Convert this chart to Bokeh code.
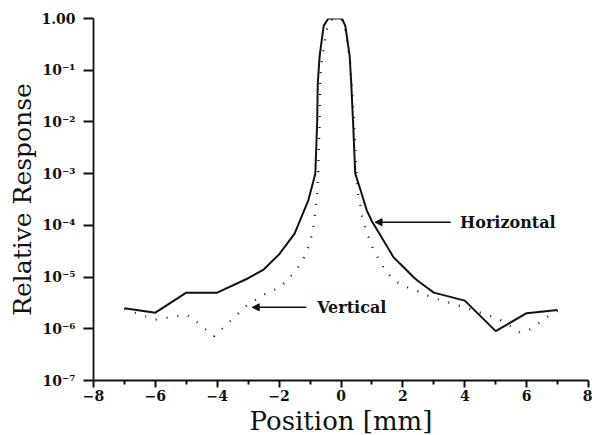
from bokeh.plotting import figure
from bokeh.models import FixedTicker, Arrow, NormalHead, Label, Range1d, Title
from bokeh.embed import file_html
from bokeh.resources import INLINE

# Horizontal profile (solid)
h_x = [-7, -6, -5, -4, -3, -2.5, -2, -1.5, -1.06, -0.83, -0.77, -0.75, -0.69,
       -0.56, -0.41, -0.2, 0.03, 0.14, 0.28, 0.33, 0.39, 0.46, 0.57, 0.84, 1.0,
       1.5, 1.7, 2.0, 2.34, 2.5, 3, 4, 5, 6, 7]
h_y = [2.5e-6, 2.05e-6, 5e-6, 5e-6, 9.5e-6, 1.4e-5, 2.75e-5, 6.9e-5, 3e-4,
       1e-3, 1e-2, 5.7e-2, 0.19, 0.72, 1.0, 1.0, 1.0, 0.72, 0.19, 5.7e-2, 0.01,
       1e-3, 6.3e-4, 1.9e-4, 1.2e-4, 3.8e-5, 2.4e-5, 1.6e-5, 1e-5, 8.3e-6,
       5e-6, 3.5e-6, 9e-7, 2e-6, 2.3e-6]

# Vertical profile (dotted)
v_x = [-7, -6, -5, -4.7, -4.1, -3, -2.37, -2, -1.74, -1.5, -1.26, -1.1, -0.99,
       -0.9, -0.81, -0.77, -0.74, -0.69, -0.67, -0.64, -0.59, -0.53, -0.47,
       -0.35, -0.15, 0.0, 0.1, 0.19, 0.25, 0.30, 0.33, 0.42, 0.49, 0.54, 0.62,
       0.68, 0.78, 0.92, 1.05, 1.24, 1.43, 1.7, 1.97, 2.34, 2.67, 3.02, 3.74,
       4.44, 4.79, 5.14, 5.46, 5.78, 6.11, 6.41, 6.73, 7.0]
v_y = [2.4e-6, 1.5e-6, 1.9e-6, 1.4e-6, 7.2e-7, 3.0e-6, 5e-6, 6.2e-6, 8.7e-6,
       1.26e-5, 1.95e-5, 3.2e-5, 5e-5, 8.5e-5, 2.4e-4, 4e-4, 1.1e-3, 9e-3,
       7e-2, 0.12, 0.2, 0.35, 0.58, 0.92, 1.0, 1.0, 0.8, 0.37, 0.22, 0.13,
       0.078, 1e-2, 1.3e-3, 4.3e-4, 2.6e-4, 1.5e-4, 9e-5, 5.4e-5, 3.3e-5,
       2.1e-5, 1.35e-5, 9e-6, 6.8e-6, 5.9e-6, 4.7e-6, 3.9e-6, 2.9e-6, 2.1e-6,
       1.8e-6, 1.5e-6, 1.15e-6, 8.5e-7, 9.8e-7, 1.3e-6, 1.8e-6, 2.2e-6]

x_ticks = [-8, -6, -4, -2, 0, 2, 4, 6, 8]
x_minor = [-7, -5, -3, -1, 1, 3, 5, 7]
x_tick_labels = ["\u22128", "\u22126", "\u22124", "\u22122", "0", "2", "4", "6", "8"]
y_ticks = [1e-7, 1e-6, 1e-5, 1e-4, 1e-3, 1e-2, 1e-1, 1.0]
y_tick_labels = ["10\u207b\u2077", "10\u207b\u2076", "10\u207b\u2075", "10\u207b\u2074",
                 "10\u207b\u00b3", "10\u207b\u00b2", "10\u207b\u00b9", "1.00"]
x_title = "Position [mm]"
y_title = "Relative Response"

p = figure(width=592, height=435, y_axis_type="log",
           x_range=Range1d(-8, 8), y_range=Range1d(1e-7, 1.0),
           output_backend="svg", toolbar_location=None,
           min_border_left=93, min_border_right=4, min_border_top=18,
           min_border_bottom=55)
p.background_fill_color = "white"
p.border_fill_color = "white"
p.outline_line_color = None
p.grid.visible = False

p.line(h_x, h_y, line_color="#111111", line_width=2)
p.line(v_x, v_y, line_color="#111111", line_width=2.2, line_dash="1 10")

serif = "DejaVu Serif"

xa = p.xaxis[0]
xa.ticker = FixedTicker(ticks=x_ticks, minor_ticks=x_minor)
xa.major_label_overrides = {t: l for t, l in zip(x_ticks, x_tick_labels)}
ya = p.yaxis[0]
ya.ticker = FixedTicker(ticks=y_ticks, minor_ticks=[])
ya.major_label_overrides = {t: l for t, l in zip(y_ticks, y_tick_labels)}

for ax in (xa, ya):
    ax.axis_line_color = "#111111"
    ax.axis_line_width = 1.8
    ax.major_tick_line_color = "#111111"
    ax.major_tick_line_width = 2
    ax.minor_tick_line_color = "#111111"
    ax.minor_tick_line_width = 2
    ax.major_tick_in = 0
    ax.minor_tick_in = 0
    ax.major_label_text_font = serif
    ax.major_label_text_font_style = "bold"
    ax.major_label_text_font_size = "14px"
    ax.major_label_text_color = "#111111"

xa.major_tick_out = 7
xa.minor_tick_out = 4
xa.major_label_standoff = 2

ya.major_tick_out = 10
ya.minor_tick_out = 0
ya.major_label_standoff = 8

# axis titles in their own side panels
p.add_layout(Title(text=x_title, align="center", text_font=serif,
                   text_font_style="normal", text_font_size="26px",
                   text_color="#111111", standoff=0, offset=0), "below")
p.add_layout(Title(text=y_title, align="center", text_font=serif,
                   text_font_style="normal", text_font_size="25px",
                   text_color="#111111", standoff=4, offset=0), "left")

head = dict(size=7, fill_color="#111111", line_color="#111111")
p.add_layout(Arrow(end=NormalHead(**head), x_start=3.55, y_start=1.15e-4,
                   x_end=1.1, y_end=1.15e-4, line_width=1.5, line_color="#111111"))
p.add_layout(Label(x=3.85, y=1.15e-4, text="Horizontal", text_baseline="middle",
                   text_font=serif, text_font_style="bold", text_font_size="16px",
                   text_color="#111111"))
p.add_layout(Arrow(end=NormalHead(**head), x_start=-1.12, y_start=2.6e-6,
                   x_end=-2.87, y_end=2.6e-6, line_width=1.5, line_color="#111111"))
p.add_layout(Label(x=-0.77, y=2.6e-6, text="Vertical", text_baseline="middle",
                   text_font=serif, text_font_style="bold", text_font_size="16px",
                   text_color="#111111"))

open("out.html", "w").write(file_html(p, INLINE))
